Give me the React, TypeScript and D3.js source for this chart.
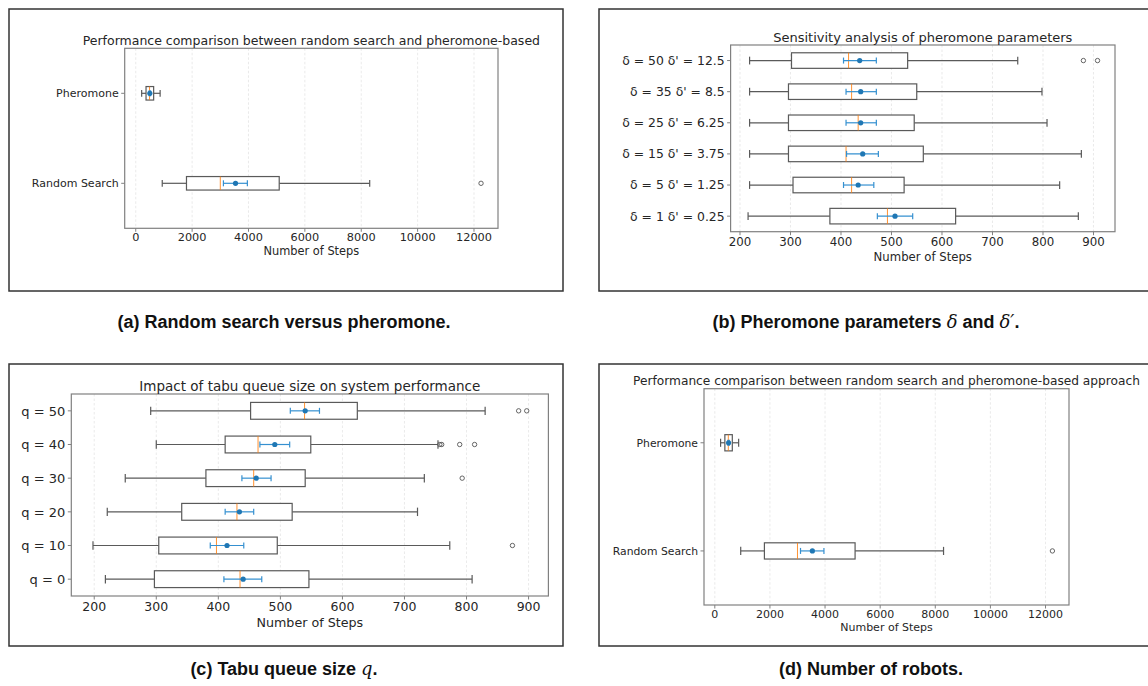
import React from "react";
import * as d3 from "d3";

// values: [lower whisker, Q1, median, Q3, upper whisker]
const methodLabels = ["Random Search", "Pheromone"];
const methodBoxes = [
  [940, 1800, 3000, 5090, 8300],
  [210, 365, 490, 635, 865],
];
const methodMeans = [3540, 500];
const methodCI = [
  [3110, 3960],
  [475, 525],
];
const methodOutliers = [[12250], []];

const deltaLabels = [
  "δ = 1 δ' = 0.25",
  "δ = 5 δ' = 1.25",
  "δ = 15 δ' = 3.75",
  "δ = 25 δ' = 6.25",
  "δ = 35 δ' = 8.5",
  "δ = 50 δ' = 12.5",
];
const deltaBoxes = [
  [216, 378, 492, 627, 870],
  [219, 305, 421, 525, 833],
  [219, 296, 410, 563, 876],
  [219, 296, 434, 545, 808],
  [219, 296, 421, 550, 798],
  [219, 302, 415, 532, 750],
];
const deltaMeans = [507, 434, 443, 439, 439, 437];
const deltaCI = [
  [472, 542],
  [405, 465],
  [411, 474],
  [410, 470],
  [410, 470],
  [405, 470],
];
const deltaOutliers = [[], [], [], [], [], [880, 908]];

const queueLabels = ["q = 0", "q = 10", "q = 20", "q = 30", "q = 40", "q = 50"];
const queueBoxes = [
  [218, 297, 435, 546, 809],
  [198, 304, 397, 495, 773],
  [221, 341, 430, 519, 721],
  [250, 380, 457, 540, 732],
  [300, 411, 464, 549, 754],
  [291, 452, 539, 624, 830],
];
const queueMeans = [440, 414, 434, 461, 491, 540];
const queueCI = [
  [409, 470],
  [387, 441],
  [411, 457],
  [438, 485],
  [467, 515],
  [516, 563],
];
const queueOutliers = [[], [874], [], [793], [757, 760, 789, 813], [884, 897]];

const stepTicksWide = [0, 2000, 4000, 6000, 8000, 10000, 12000];
const stepTicksNarrow = [200, 300, 400, 500, 600, 700, 800, 900];

const FONT = "DejaVu Sans, sans-serif";
const TEXT = "#262626";
const SPINE = "#808080";
const BOXLINE = "#5a5a5a";

type Rect = { left: number; right: number; top: number; bottom: number };

function BoxPanel(props: {
  frame: { x: number; y: number; w: number; h: number };
  plot: Rect;
  title: string;
  titleSize: number;
  tickSize: number;
  labelSize: number;
  axisSize: number;
  tickDy: number;
  axisDy: number;
  widthFrac: number;
  labels: string[];
  boxes: number[][];
  means: number[];
  ci: number[][];
  outliers: number[][];
  ticks: number[];
}) {
  const { frame, plot, labels, boxes, means, ci, outliers, ticks } = props;
  const all = boxes.flat().concat(outliers.flat());
  const lo = d3.min(all) as number;
  const hi = d3.max(all) as number;
  const pad = (hi - lo) * 0.05;
  const x = d3.scaleLinear().domain([lo - pad, hi + pad]).range([plot.left, plot.right]);
  const y = d3
    .scaleLinear()
    .domain([0.5, labels.length + 0.5])
    .range([plot.bottom, plot.top]);
  const band = (y(1) - y(2)) * props.widthFrac;
  const cap = band / 4;

  return (
    <g>
      <rect x={frame.x} y={frame.y} width={frame.w} height={frame.h} fill="none" stroke="#333" strokeWidth={1.5} />
      {/* grid */}
      {ticks.map((t) => (
        <line key={"g" + t} x1={x(t)} x2={x(t)} y1={plot.top} y2={plot.bottom} stroke="#e4e4e4" strokeWidth={0.8} strokeDasharray="2.5 2" />
      ))}
      {/* boxes */}
      {boxes.map((b, i) => {
        const cy = y(i + 1);
        return (
          <g key={"b" + i} stroke={BOXLINE} strokeWidth={1.2} fill="none">
            <line x1={x(b[0])} x2={x(b[1])} y1={cy} y2={cy} />
            <line x1={x(b[3])} x2={x(b[4])} y1={cy} y2={cy} />
            <line x1={x(b[0])} x2={x(b[0])} y1={cy - cap} y2={cy + cap} />
            <line x1={x(b[4])} x2={x(b[4])} y1={cy - cap} y2={cy + cap} />
            <rect x={x(b[1])} y={cy - band / 2} width={x(b[3]) - x(b[1])} height={band} fill="#fff" />
            <line x1={x(b[2])} x2={x(b[2])} y1={cy - band / 2} y2={cy + band / 2} stroke="#ff7f0e" strokeOpacity={0.85} strokeWidth={1} />
            {outliers[i].map((o, k) => (
              <circle key={k} cx={x(o)} cy={cy} r={2.2} stroke="#555" strokeWidth={0.9} />
            ))}
          </g>
        );
      })}
      {/* mean and confidence interval */}
      {means.map((m, i) => {
        const cy = y(i + 1);
        const [a, b] = ci[i];
        return (
          <g key={"m" + i}>
            <g stroke="#3590d0" strokeWidth={1.2}>
              <line x1={x(a)} x2={x(b)} y1={cy} y2={cy} />
              <line x1={x(a)} x2={x(a)} y1={cy - 3} y2={cy + 3} />
              <line x1={x(b)} x2={x(b)} y1={cy - 3} y2={cy + 3} />
            </g>
            <circle cx={x(m)} cy={cy} r={2.6} fill="#1f77b4" />
          </g>
        );
      })}
      {/* spines */}
      <rect x={plot.left} y={plot.top} width={plot.right - plot.left} height={plot.bottom - plot.top} fill="none" stroke={SPINE} strokeWidth={1.2} />
      {/* x ticks */}
      {ticks.map((t) => (
        <g key={"t" + t}>
          <line x1={x(t)} x2={x(t)} y1={plot.bottom} y2={plot.bottom + 3.5} stroke={SPINE} strokeWidth={1} />
          <text x={x(t)} y={plot.bottom + props.tickDy} textAnchor="middle" fontSize={props.tickSize} fill={TEXT} fontFamily={FONT}>
            {t}
          </text>
        </g>
      ))}
      {/* y ticks */}
      {labels.map((l, i) => (
        <g key={"l" + i}>
          <line x1={plot.left - 3.5} x2={plot.left} y1={y(i + 1)} y2={y(i + 1)} stroke={SPINE} strokeWidth={1} />
          <text x={plot.left - 6} y={y(i + 1)} dy="0.36em" textAnchor="end" fontSize={props.labelSize} fill={TEXT} fontFamily={FONT}>
            {l}
          </text>
        </g>
      ))}
      <text x={(plot.left + plot.right) / 2} y={plot.top - 3.5} textAnchor="middle" fontSize={props.titleSize} fill={TEXT} fontFamily={FONT}>
        {props.title}
      </text>
      <text x={(plot.left + plot.right) / 2} y={plot.bottom + props.axisDy} textAnchor="middle" fontSize={props.axisSize} fill={TEXT} fontFamily={FONT}>
        Number of Steps
      </text>
    </g>
  );
}

const CAP_FONT = "Liberation Sans, Arial, sans-serif";

function Caption({ x, y, children }: { x: number; y: number; children: React.ReactNode }) {
  return (
    <text x={x} y={y} textAnchor="middle" fontSize={18} fontWeight="bold" fontFamily={CAP_FONT} fill="#111">
      {children}
    </text>
  );
}

const mathStyle = { fontFamily: "DejaVu Serif, serif", fontStyle: "italic", fontWeight: "normal" as const };

export default function App() {
  return (
    <svg width={1148} height={686} style={{ position: "absolute", left: 0, top: 0, background: "#fff" }}>
      <BoxPanel
        frame={{ x: 9, y: 9, w: 554, h: 282 }}
        plot={{ left: 124.7, right: 498, top: 48.3, bottom: 228.3 }}
        title="Performance comparison between random search and pheromone-based"
        titleSize={12.5}
        tickSize={11.3}
        labelSize={11}
        axisSize={11.4}
        tickDy={13}
        axisDy={27}
        widthFrac={0.15}
        labels={methodLabels}
        boxes={methodBoxes}
        means={methodMeans}
        ci={methodCI}
        outliers={methodOutliers}
        ticks={stepTicksWide}
      />
      <BoxPanel
        frame={{ x: 599, y: 9, w: 600, h: 282 }}
        plot={{ left: 730.6, right: 1115, top: 45, bottom: 231.7 }}
        title="Sensitivity analysis of pheromone parameters"
        titleSize={13}
        tickSize={11.8}
        labelSize={12.4}
        axisSize={11.7}
        tickDy={14}
        axisDy={29}
        widthFrac={0.5}
        labels={deltaLabels}
        boxes={deltaBoxes}
        means={deltaMeans}
        ci={deltaCI}
        outliers={deltaOutliers}
        ticks={stepTicksNarrow}
      />
      <BoxPanel
        frame={{ x: 9, y: 364, w: 554, h: 282 }}
        plot={{ left: 71.3, right: 548.4, top: 394, bottom: 596 }}
        title="Impact of tabu queue size on system performance"
        titleSize={13.5}
        tickSize={12.5}
        labelSize={13}
        axisSize={12.7}
        tickDy={15}
        axisDy={30.5}
        widthFrac={0.5}
        labels={queueLabels}
        boxes={queueBoxes}
        means={queueMeans}
        ci={queueCI}
        outliers={queueOutliers}
        ticks={stepTicksNarrow}
      />
      <BoxPanel
        frame={{ x: 599, y: 364, w: 600, h: 282 }}
        plot={{ left: 704, right: 1069, top: 388.7, bottom: 605 }}
        title="Performance comparison between random search and pheromone-based approach"
        titleSize={12.2}
        tickSize={11}
        labelSize={10.8}
        axisSize={11}
        tickDy={13}
        axisDy={26}
        widthFrac={0.15}
        labels={methodLabels}
        boxes={methodBoxes}
        means={methodMeans}
        ci={methodCI}
        outliers={methodOutliers}
        ticks={stepTicksWide}
      />
      <Caption x={284} y={328}>(a) Random search versus pheromone.</Caption>
      <Caption x={866} y={328}>
        (b) Pheromone parameters <tspan style={mathStyle}>δ</tspan> and <tspan style={mathStyle}>δ′</tspan>.
      </Caption>
      <Caption x={284} y={675}>
        (c) Tabu queue size <tspan style={mathStyle}>q</tspan>.
      </Caption>
      <Caption x={871} y={675}>(d) Number of robots.</Caption>
    </svg>
  );
}
